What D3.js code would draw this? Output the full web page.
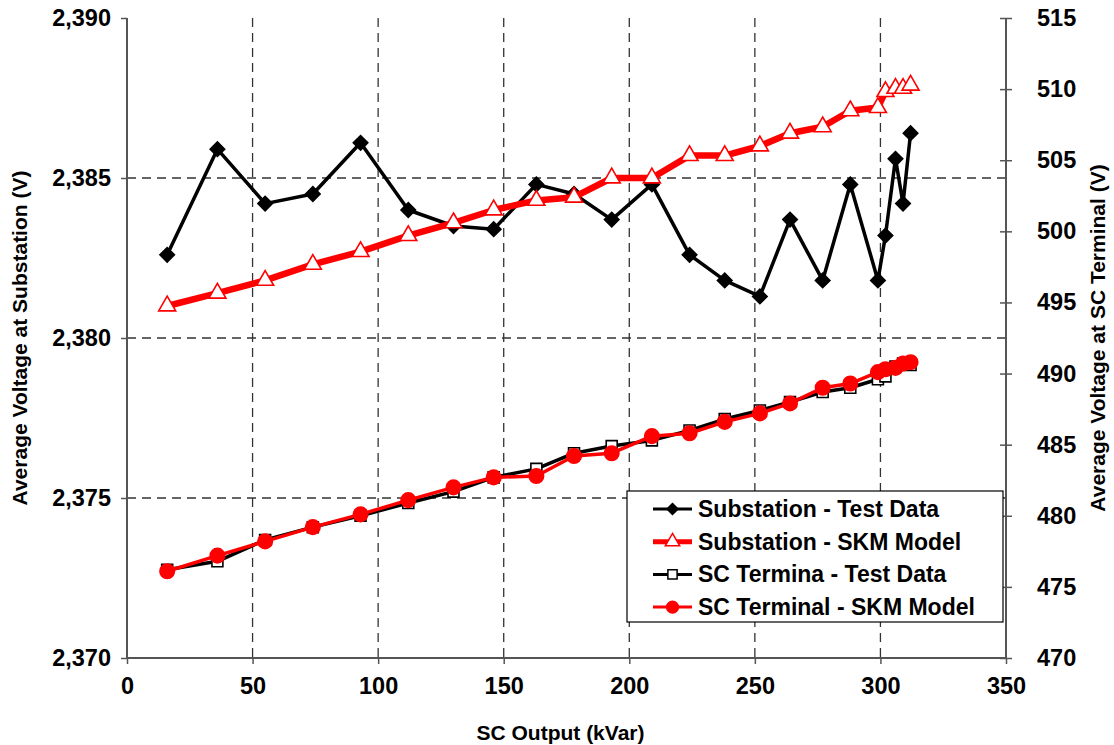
<!DOCTYPE html>
<html>
<head>
<meta charset="UTF-8">
<title>SC Output vs Voltage</title>
<script src="https://d3js.org/d3.v7.min.js"></script>
<style>
  body { margin: 0; background: #fff; }
  text { font-family: "Liberation Sans", Arial, sans-serif; font-weight: bold; fill: #000; }
</style>
</head>
<body>
<div id="chart"></div>
<script>
// SC output (kVar) for each measurement
var scOutput = [16, 36, 55, 74, 93, 112, 130, 146, 163, 178, 193, 209, 224, 238, 252, 264, 277, 288, 299, 302, 306, 309, 312];

// left axis series (V)
var subTest = [2382.6, 2385.9, 2384.2, 2384.5, 2386.1, 2384.0, 2383.5, 2383.4, 2384.8, 2384.5, 2383.7, 2384.8,
               2382.6, 2381.8, 2381.3, 2383.7, 2381.8, 2384.8, 2381.8, 2383.2, 2385.6, 2384.2, 2386.4];
var subModel = [2381.0, 2381.4, 2381.8, 2382.3, 2382.7, 2383.2, 2383.6, 2384.0, 2384.3, 2384.4, 2385.0, 2385.0,
                2385.7, 2385.7, 2386.0, 2386.4, 2386.6, 2387.1, 2387.2, 2387.7, 2387.8, 2387.8, 2387.9];

// right axis series (V)
var scTest = [476.2, 476.8, 478.3, 479.2, 480.0, 480.9, 481.7, 482.7, 483.3, 484.4, 484.9, 485.3,
              486.0, 486.8, 487.4, 488.0, 488.7, 489.0, 489.6, 489.8, 490.5, 490.7, 490.6];
var scModel = [476.1, 477.2, 478.2, 479.2, 480.1, 481.1, 482.0, 482.7, 482.8, 484.2, 484.4, 485.6,
               485.8, 486.6, 487.2, 487.9, 489.0, 489.3, 490.1, 490.3, 490.4, 490.7, 490.8];

var xTicks = [0, 50, 100, 150, 200, 250, 300, 350];
var leftTicks = [2370, 2375, 2380, 2385, 2390];
var rightTicks = [470, 475, 480, 485, 490, 495, 500, 505, 510, 515];

var legendNames = ["Substation - Test Data", "Substation - SKM Model", "SC Termina - Test Data", "SC Terminal - SKM Model"];

var W = 1114, H = 745;
var margin = {top: 18, right: 108, bottom: 87, left: 127};
var width = W - margin.left - margin.right,
    height = H - margin.top - margin.bottom;

var svg = d3.select("#chart").append("svg")
    .attr("width", W)
    .attr("height", H);
var g = svg.append("g")
    .attr("transform", "translate(" + margin.left + "," + margin.top + ")");

var x = d3.scaleLinear().domain([0, 350]).range([0, width]);
var yL = d3.scaleLinear().domain([2370, 2390]).range([height, 0]);
var yR = d3.scaleLinear().domain([470, 515]).range([height, 0]);

// grid
g.selectAll(".vgrid").data(xTicks.filter(function(d) { return d > 0 && d < 350; }))
  .enter().append("line")
    .attr("x1", function(d) { return x(d); }).attr("x2", function(d) { return x(d); })
    .attr("y1", 0).attr("y2", height)
    .attr("stroke", "#333").attr("stroke-width", 1.3).attr("stroke-dasharray", "9,6");
g.selectAll(".hgrid").data(leftTicks.filter(function(d) { return d > 2370 && d < 2390; }))
  .enter().append("line")
    .attr("x1", 0).attr("x2", width)
    .attr("y1", function(d) { return yL(d); }).attr("y2", function(d) { return yL(d); })
    .attr("stroke", "#333").attr("stroke-width", 1.3).attr("stroke-dasharray", "9,6");

// axes
var xAxis = g.append("g").attr("transform", "translate(0," + height + ")")
    .call(d3.axisBottom(x).tickValues(xTicks).tickSize(6).tickPadding(13));
var lAxis = g.append("g")
    .call(d3.axisLeft(yL).tickValues(leftTicks).tickSize(6).tickPadding(10).tickFormat(d3.format(",")));
var rAxis = g.append("g").attr("transform", "translate(" + width + ",0)")
    .call(d3.axisRight(yR).tickValues(rightTicks).tickSize(6).tickPadding(25));
rAxis.selectAll(".tick line").attr("x1", -6);

[xAxis, lAxis, rAxis].forEach(function(a) {
  a.attr("font-size", null).attr("font-family", null);
  a.select(".domain").attr("stroke", "#555").attr("stroke-width", 2);
  a.selectAll(".tick line").attr("stroke", "#555").attr("stroke-width", 1.5);
  a.selectAll(".tick text").style("font-size", "23.5px");
});
xAxis.select(".domain").attr("d", "M0,0H" + width);
lAxis.select(".domain").attr("d", "M0," + height + "V0");
rAxis.select(".domain").attr("d", "M0," + height + "V0");

// axis titles
svg.append("text").attr("x", margin.left + width / 2 - 6).attr("y", 740)
  .attr("text-anchor", "middle").style("font-size", "21px").text("SC Output (kVar)");
svg.append("text").attr("transform", "translate(27," + (margin.top + height / 2) + ") rotate(-90)")
  .attr("text-anchor", "middle").style("font-size", "21px").text("Average Voltage at Substation (V)");
svg.append("text").attr("transform", "translate(1105," + (margin.top + height / 2) + ") rotate(-90)")
  .attr("text-anchor", "middle").style("font-size", "21px").text("Average Voltage at SC Terminal (V)");

var diamond = d3.symbol().type(d3.symbolSquare).size(105);
var triangle = d3.symbol().type(d3.symbolTriangle).size(125);
var square = d3.symbol().type(d3.symbolSquare).size(120);
var circle = d3.symbol().type(d3.symbolCircle).size(165);

var series = [
  {vals: subTest, y: yL, color: "#000", lw: 3.5, sym: diamond, rot: 45, fill: "#000", stroke: "#000"},
  {vals: subModel, y: yL, color: "#ff0000", lw: 6.5, sym: triangle, rot: 0, fill: "#fff", stroke: "#ff0000"},
  {vals: scTest, y: yR, color: "#000", lw: 3.5, sym: square, rot: 0, fill: "#fff", stroke: "#000"},
  {vals: scModel, y: yR, color: "#ff0000", lw: 3.5, sym: circle, rot: 0, fill: "#ff0000", stroke: "#ff0000"}
];

series.forEach(function(s) {
  var pts = scOutput.map(function(d, i) { return [d, s.vals[i]]; });
  var line = d3.line().x(function(d) { return x(d[0]); }).y(function(d) { return s.y(d[1]); });
  g.append("path").datum(pts)
    .attr("d", line).attr("fill", "none")
    .attr("stroke", s.color).attr("stroke-width", s.lw).attr("stroke-linejoin", "round");
  g.selectAll(null).data(pts).enter().append("path")
    .attr("d", s.sym)
    .attr("transform", function(d) { return "translate(" + x(d[0]) + "," + s.y(d[1]) + ") rotate(" + s.rot + ")"; })
    .attr("fill", s.fill).attr("stroke", s.stroke).attr("stroke-width", 1.6);
});

// legend
var lg = svg.append("g").attr("transform", "translate(627,491)");
lg.append("rect").attr("width", 376).attr("height", 131)
  .attr("fill", "#fff").attr("stroke", "#000").attr("stroke-width", 1.2);
var legendSizes = [60, 90, 85, 110];
series.forEach(function(s, i) {
  var yy = 18 + i * 32.7;
  lg.append("line").attr("x1", 26).attr("x2", 65).attr("y1", yy).attr("y2", yy)
    .attr("stroke", s.color).attr("stroke-width", s.lw > 5 ? 5 : 3);
  lg.append("path").attr("d", s.sym.size(legendSizes[i])())
    .attr("transform", "translate(45.5," + yy + ") rotate(" + s.rot + ")")
    .attr("fill", s.fill).attr("stroke", s.stroke).attr("stroke-width", 1.5);
  lg.append("text").attr("x", 71).attr("y", yy + 8)
    .style("font-size", "23px").text(legendNames[i]);
});
</script>
</body>
</html>
